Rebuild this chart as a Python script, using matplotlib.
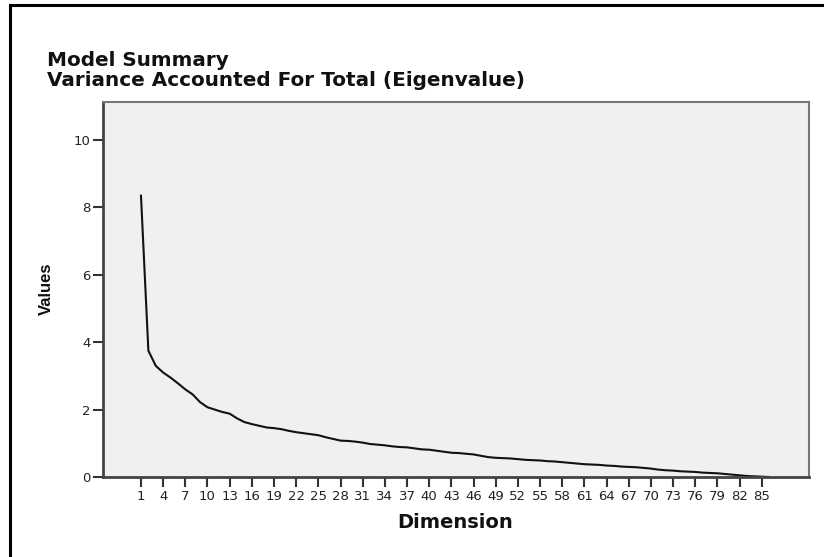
import matplotlib
matplotlib.use("Agg")
import matplotlib.pyplot as plt
from matplotlib.lines import Line2D

plt.rcParams['font.family'] = ['DejaVu Sans']

dimensions = list(range(1, 87))
eigenvalues = [
    8.35, 3.75, 3.30, 3.10, 2.95, 2.78, 2.60, 2.45, 2.22, 2.07,
    2.00, 1.93, 1.88, 1.74, 1.63, 1.57, 1.52, 1.47, 1.45, 1.42,
    1.37, 1.33, 1.30, 1.27, 1.24, 1.18, 1.13, 1.08, 1.07, 1.05,
    1.02, 0.98, 0.96, 0.94, 0.91, 0.89, 0.88, 0.85, 0.82, 0.81,
    0.78, 0.75, 0.72, 0.71, 0.69, 0.67, 0.63, 0.59, 0.57, 0.56,
    0.55, 0.53, 0.51, 0.50, 0.49, 0.47, 0.46, 0.44, 0.42, 0.40,
    0.38, 0.37, 0.36, 0.34, 0.33, 0.31, 0.30, 0.29, 0.27, 0.25,
    0.22, 0.20, 0.19, 0.17, 0.16, 0.15, 0.13, 0.12, 0.11, 0.09,
    0.07, 0.05, 0.03, 0.02, 0.01, 0.00,
]
x_ticks = list(range(1, 86, 3))
y_ticks = [0, 2, 4, 6, 8, 10]
title_lines = ["Model Summary", "Variance Accounted For Total (Eigenvalue)"]
x_label = "Dimension"
y_label = "Values"

W, H = 824, 557
fig = plt.figure(figsize=(W / 100, H / 100), dpi=100)
ax = fig.add_axes([103 / W, 1 - 477 / H, (809 - 103) / W, (477 - 102) / H])
ax.set_facecolor('#f0f0f0')

ax.plot(dimensions, eigenvalues, color='#111111', linewidth=1.5)

ax.set_xlim(-4.14, 91.4)
ax.set_ylim(0, 11.13)
ax.set_xticks(x_ticks)
ax.set_xticklabels([str(t) for t in x_ticks])
ax.set_yticks(y_ticks)
ax.set_yticklabels([str(t) for t in y_ticks])
ax.tick_params(axis='both', direction='out', length=7, width=1.5, color='#333333',
               labelsize=9.5, labelcolor='#222222', pad=2)

for side in ['left', 'bottom']:
    ax.spines[side].set_color('#444444')
    ax.spines[side].set_linewidth(2.0)
for side in ['top', 'right']:
    ax.spines[side].set_color('#777777')
    ax.spines[side].set_linewidth(1.5)

fig.text(47 / W, 1 - 61 / H, title_lines[0], fontsize=14.4, fontweight='bold',
         ha='left', va='center', color='#111111')
fig.text(47 / W, 1 - 80 / H, title_lines[1], fontsize=14.4, fontweight='bold',
         ha='left', va='center', color='#111111')

fig.text(455 / W, 1 - 523 / H, x_label, fontsize=14, fontweight='bold',
         ha='center', va='center', color='#111111')
fig.text(46 / W, 1 - 289 / H, y_label, fontsize=12, fontweight='bold', rotation=90,
         ha='center', va='center', color='#111111',
         family=['Liberation Sans Narrow', 'Liberation Sans', 'DejaVu Sans'])

# outer frame (left and top edges)
fig.add_artist(Line2D([9.5 / W, 9.5 / W], [0, 1 - 5 / H], transform=fig.transFigure,
                      color='black', linewidth=2.2))
fig.add_artist(Line2D([9.5 / W, 1.0], [1 - 5 / H, 1 - 5 / H], transform=fig.transFigure,
                      color='black', linewidth=2.2))

fig.savefig('out.png', dpi=100, facecolor='white')
